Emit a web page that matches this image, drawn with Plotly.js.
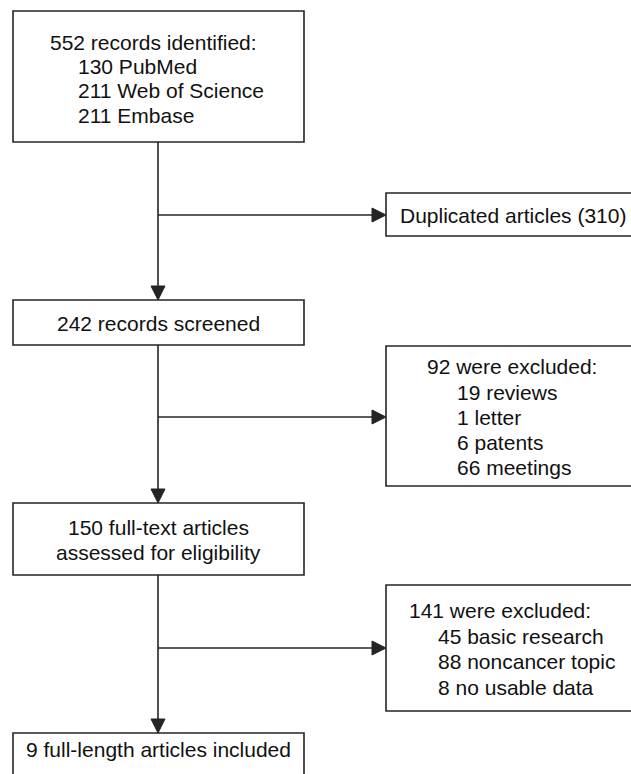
<!DOCTYPE html>
<html>
<head>
<meta charset="utf-8">
<script src="https://cdn.plot.ly/plotly-3.0.1.min.js"></script>
<style>
  html, body { margin: 0; padding: 0; background: #ffffff; }
  #chart { width: 631px; height: 774px; }
</style>
</head>
<body>
<div id="chart"></div>
<script>
// ---- data (PRISMA flow counts) ----
const identifiedTotal = 552;
const sourceNames = ['PubMed', 'Web of Science', 'Embase'];
const sourceCounts = [130, 211, 211];
const duplicatesRemoved = 310;
const screenedTotal = 242;
const screenExclTotal = 92;
const screenExclReasons = ['reviews', 'letter', 'patents', 'meetings'];
const screenExclCounts = [19, 1, 6, 66];
const fullTextTotal = 150;
const eligExclTotal = 141;
const eligExclReasons = ['basic research', 'noncancer topic', 'no usable data'];
const eligExclCounts = [45, 88, 8];
const includedTotal = 9;

// ---- layout geometry (pixel space, y grows downward) ----
const W = 631, H = 774;
const LINE = '#262324';
const TEXT = '#111111';
const FONT = 'Arial, "Liberation Sans", Helvetica, sans-serif';
const FS = 21;
const mainX = 158;           // centre of the main column
const leftBox = [13, 304];
const sideX0 = 386, sideX1 = 640;
const AH = 14;               // arrowhead length

const mainBoxes = [
  {y0: 11,  y1: 142},   // identified
  {y0: 300, y1: 345},   // screened
  {y0: 503, y1: 575},   // full text
  {y0: 733, y1: 800}    // included
];
const sideBoxes = [
  {y0: 193, y1: 236, arrowY: 215},  // duplicates
  {y0: 346, y1: 486, arrowY: 417},  // screen exclusions
  {y0: 585, y1: 711, arrowY: 648}   // eligibility exclusions
];

const shapes = [];
const lineStyle = {color: LINE, width: 1.6};
function rect(x0, y0, x1, y1) {
  shapes.push({type: 'rect', xref: 'x', yref: 'y', x0, y0, x1, y1,
    line: lineStyle, fillcolor: 'rgba(0,0,0,0)', layer: 'above'});
}
function seg(x0, y0, x1, y1) {
  shapes.push({type: 'line', xref: 'x', yref: 'y', x0, y0, x1, y1, line: lineStyle});
}
function headDown(x, y) {
  shapes.push({type: 'path', xref: 'x', yref: 'y',
    path: `M ${x} ${y} L ${x - 7} ${y - AH} L ${x + 7} ${y - AH} Z`,
    fillcolor: LINE, line: {color: LINE, width: 1}});
}
function headRight(x, y) {
  shapes.push({type: 'path', xref: 'x', yref: 'y',
    path: `M ${x} ${y} L ${x - AH} ${y - 7} L ${x - AH} ${y + 7} Z`,
    fillcolor: LINE, line: {color: LINE, width: 1}});
}

mainBoxes.forEach(b => rect(leftBox[0], b.y0, leftBox[1], b.y1));
sideBoxes.forEach(b => rect(sideX0, b.y0, sideX1, b.y1));
for (let i = 0; i < mainBoxes.length - 1; i++) {
  seg(mainX, mainBoxes[i].y1, mainX, mainBoxes[i + 1].y0 - AH + 1);
  headDown(mainX, mainBoxes[i + 1].y0);
  const s = sideBoxes[i];
  seg(mainX, s.arrowY, sideX0 - AH + 1, s.arrowY);
  headRight(sideX0, s.arrowY);
}

// ---- text ----
const annotations = [];
function txt(text, x, y, anchor) {
  annotations.push({text, x, y, xref: 'x', yref: 'y', showarrow: false,
    xanchor: anchor || 'left', yanchor: 'middle', borderpad: 0,
    font: {family: FONT, size: FS, color: TEXT}});
}

// Box 1: identified
txt(`${identifiedTotal} records identified:`, 49, 42);
sourceNames.forEach((n, i) => txt(`${sourceCounts[i]} ${n}`, 77, 66 + i * 24.5));
// Duplicates
txt(`Duplicated articles (${duplicatesRemoved})`, 399, 215);
// Screened
txt(`${screenedTotal} records screened`, mainX, 323, 'center');
// Screen exclusions
txt(`${screenExclTotal} were excluded:`, 426, 366);
screenExclReasons.forEach((r, i) => txt(`${screenExclCounts[i]} ${r}`, 456, 392 + i * 25));
// Full text
txt(`${fullTextTotal} full-text articles`, mainX, 527, 'center');
txt('assessed for eligibility', mainX, 552, 'center');
// Eligibility exclusions
txt(`${eligExclTotal} were excluded:`, 408, 610);
eligExclReasons.forEach((r, i) => txt(`${eligExclCounts[i]} ${r}`, 437, 636 + i * 25.5));
// Included
txt(`${includedTotal} full-length articles included`, mainX, 749, 'center');

const layout = {
  width: W, height: H,
  margin: {l: 0, r: 0, t: 0, b: 0},
  paper_bgcolor: '#ffffff', plot_bgcolor: '#ffffff',
  xaxis: {range: [0, W], visible: false, fixedrange: true},
  yaxis: {range: [H, 0], visible: false, fixedrange: true},
  showlegend: false,
  shapes, annotations
};

Plotly.newPlot('chart', [{x: [], y: [], type: 'scatter', mode: 'markers', hoverinfo: 'skip'}], layout,
  {displayModeBar: false, staticPlot: true});
</script>
</body>
</html>
